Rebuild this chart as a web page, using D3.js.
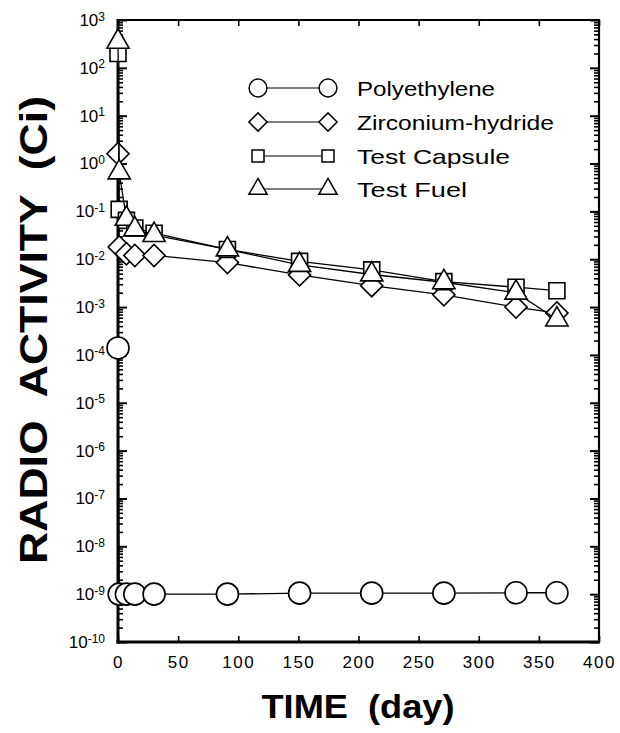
<!DOCTYPE html>
<html>
<head>
<meta charset="utf-8">
<script src="https://cdn.jsdelivr.net/npm/d3@7"></script>
<style>
  body { margin: 0; background: #fff; }
  svg { display: block; }
  text { font-family: "Liberation Sans", Arial, sans-serif; fill: #000; }
</style>
</head>
<body>
<svg id="chart" width="620" height="733"></svg>
<script>
// ---- data ----
const days = [0, 1, 7, 14, 30, 91, 151, 211, 271, 331, 365];
const polyethylene = [1.4e-4, 1.0e-9, 1.0e-9, 1.0e-9, 1.0e-9, 1.0e-9, 1.05e-9, 1.05e-9, 1.05e-9, 1.07e-9, 1.07e-9];
const zirconiumHydride = [1.6, 0.018, 0.013, 0.012, 0.012, 0.0085, 0.0047, 0.0028, 0.0018, 0.001, 0.00075];
const testCapsule = [200, 0.11, 0.065, 0.045, 0.035, 0.016, 0.009, 0.006, 0.0034, 0.0026, 0.0022];
const testFuel = [350, 0.65, 0.07, 0.042, 0.032, 0.016, 0.0076, 0.0048, 0.0033, 0.002, 0.00055];
const seriesNames = ["Polyethylene", "Zirconium-hydride", "Test  Capsule", "Test  Fuel"];
const xTicks = [0, 50, 100, 150, 200, 250, 300, 350, 400];
const yExponents = [3, 2, 1, 0, -1, -2, -3, -4, -5, -6, -7, -8, -9, -10];
const xTitle = "TIME  (day)";
const yTitle = "RADIO  ACTIVITY  (Ci)";

// ---- layout ----
const L = 118, R = 599, T = 20, B = 642;
const svg = d3.select("#chart");

const x = d3.scaleLinear().domain([0, 400]).range([L, R]);
const y = d3.scaleLog().domain([1e-10, 1e3]).range([B, T]);

const majors = yExponents.map(e => Math.pow(10, e));
const minors = [];
yExponents.forEach(e => { if (e < 3) for (let m = 2; m <= 9; m++) minors.push(m * Math.pow(10, e)); });

// ---- axes ----
const gAx = svg.append("g");
// minor ticks left/right
gAx.append("g").attr("transform", `translate(${L},0)`)
  .call(d3.axisLeft(y).tickValues(minors).tickSize(-5).tickFormat(""))
  .call(g => g.select(".domain").remove())
  .call(g => g.selectAll("line").attr("stroke-width", 1.6));
gAx.append("g").attr("transform", `translate(${R},0)`)
  .call(d3.axisRight(y).tickValues(minors).tickSize(-5).tickFormat(""))
  .call(g => g.select(".domain").remove())
  .call(g => g.selectAll("line").attr("stroke-width", 1.6));
// major ticks left with labels
const leftAx = gAx.append("g").attr("transform", `translate(${L},0)`)
  .call(d3.axisLeft(y).tickValues(majors).tickSize(-9).tickPadding(14).tickFormat(""))
  .call(g => g.select(".domain").remove())
  .call(g => g.selectAll("line").attr("stroke-width", 2));
leftAx.selectAll(".tick").each(function(d) {
  const e = Math.round(Math.log10(d));
  const t = d3.select(this).select("text")
    .attr("x", -13).attr("dy", "0.32em")
    .attr("font-size", 17).attr("text-anchor", "end")
    .attr("font-family", "Liberation Sans, Arial, sans-serif");
  t.text(null);
  t.append("tspan").text("10");
  t.append("tspan").attr("dy", "-0.45em").attr("font-size", 12).text(e < 0 ? "-" + (-e) : String(e));
});
gAx.append("g").attr("transform", `translate(${R},0)`)
  .call(d3.axisRight(y).tickValues(majors).tickSize(-9).tickFormat(""))
  .call(g => g.select(".domain").remove())
  .call(g => g.selectAll("line").attr("stroke-width", 2));
// bottom and top
gAx.append("g").attr("transform", `translate(0,${B})`)
  .call(d3.axisBottom(x).tickValues(xTicks).tickSize(-6).tickPadding(14).tickFormat(d3.format("d")))
  .call(g => g.select(".domain").remove())
  .call(g => g.selectAll("line").attr("stroke-width", 1.6))
  .call(g => g.selectAll("text").attr("font-size", 17).attr("letter-spacing", 1.5)
      .attr("font-family", "Liberation Sans, Arial, sans-serif"));
gAx.append("g").attr("transform", `translate(0,${T})`)
  .call(d3.axisTop(x).tickValues(xTicks).tickSize(-6).tickFormat(""))
  .call(g => g.select(".domain").remove())
  .call(g => g.selectAll("line").attr("stroke-width", 1.6));
// frame
gAx.append("line").attr("x1", L).attr("x2", L).attr("y1", T - 1).attr("y2", B + 1.5).attr("stroke", "#000").attr("stroke-width", 3);
gAx.append("line").attr("x1", L - 1.5).attr("x2", R + 1).attr("y1", B).attr("y2", B).attr("stroke", "#000").attr("stroke-width", 3);
gAx.append("line").attr("x1", L).attr("x2", R + 1).attr("y1", T).attr("y2", T).attr("stroke", "#000").attr("stroke-width", 2.2);
gAx.append("line").attr("x1", R).attr("x2", R).attr("y1", T - 1).attr("y2", B + 1).attr("stroke", "#000").attr("stroke-width", 2.2);

// ---- series ----
const symCircle = d3.symbol().type(d3.symbolCircle);
const symSquare = d3.symbol().type(d3.symbolSquare);
const symTri = d3.symbol().type(d3.symbolTriangle);

const series = [
  { name: seriesNames[0], vals: polyethylene, path: symCircle.size(380)(), rot: 0, lpath: symCircle.size(250)() },
  { name: seriesNames[1], vals: zirconiumHydride, path: symSquare.size(245)(), rot: 45, lpath: symSquare.size(165)() },
  { name: seriesNames[2], vals: testCapsule, path: symSquare.size(256)(), rot: 0, lpath: symSquare.size(144)() },
  { name: seriesNames[3], vals: testFuel, path: symTri.size(215)(), rot: 0, lpath: symTri.size(145)() }
];

const line = d3.line().x(d => x(d[0])).y(d => y(d[1]));
const gData = svg.append("g");
series.forEach(s => {
  const pts = days.map((d, i) => [d, s.vals[i]]);
  gData.append("path").attr("d", line(pts)).attr("fill", "none").attr("stroke", "#000").attr("stroke-width", 1.3);
  gData.selectAll(null).data(pts).enter().append("path")
    .attr("d", s.path)
    .attr("transform", d => `translate(${x(d[0])},${y(d[1])}) rotate(${s.rot})`)
    .attr("fill", "#fff").attr("stroke", "#000").attr("stroke-width", 1.6);
});

// ---- legend ----
const legY = [88, 122, 156, 189];
const legW = [138, 197, 153, 110];
const gLeg = svg.append("g");
series.forEach((s, i) => {
  const yy = legY[i];
  gLeg.append("line").attr("x1", 258).attr("x2", 328).attr("y1", yy).attr("y2", yy).attr("stroke", "#000").attr("stroke-width", 1.2);
  [258, 328].forEach(cx => {
    gLeg.append("path").attr("d", s.lpath)
      .attr("transform", `translate(${cx},${yy}) rotate(${s.rot})`)
      .attr("fill", "#fff").attr("stroke", "#000").attr("stroke-width", 1.5);
  });
  gLeg.append("text").attr("x", 357).attr("y", yy + 7.5)
    .attr("font-size", 21)
    .attr("font-family", "Liberation Sans Narrow, Liberation Sans, Arial, sans-serif")
    .attr("textLength", legW[i]).attr("lengthAdjust", "spacingAndGlyphs")
    .text(s.name);
});

// ---- titles ----
svg.append("text").attr("x", 358).attr("y", 718).attr("text-anchor", "middle")
  .attr("font-size", 34).attr("font-weight", "bold")
  .attr("textLength", 193).attr("lengthAdjust", "spacingAndGlyphs")
  .attr("xml:space", "preserve").style("white-space", "pre")
  .text(xTitle);
svg.append("text").attr("transform", "translate(47,330) rotate(-90)").attr("text-anchor", "middle")
  .attr("font-size", 38).attr("font-weight", "bold")
  .attr("textLength", 468).attr("lengthAdjust", "spacingAndGlyphs")
  .style("white-space", "pre")
  .text(yTitle);
</script>
</body>
</html>
